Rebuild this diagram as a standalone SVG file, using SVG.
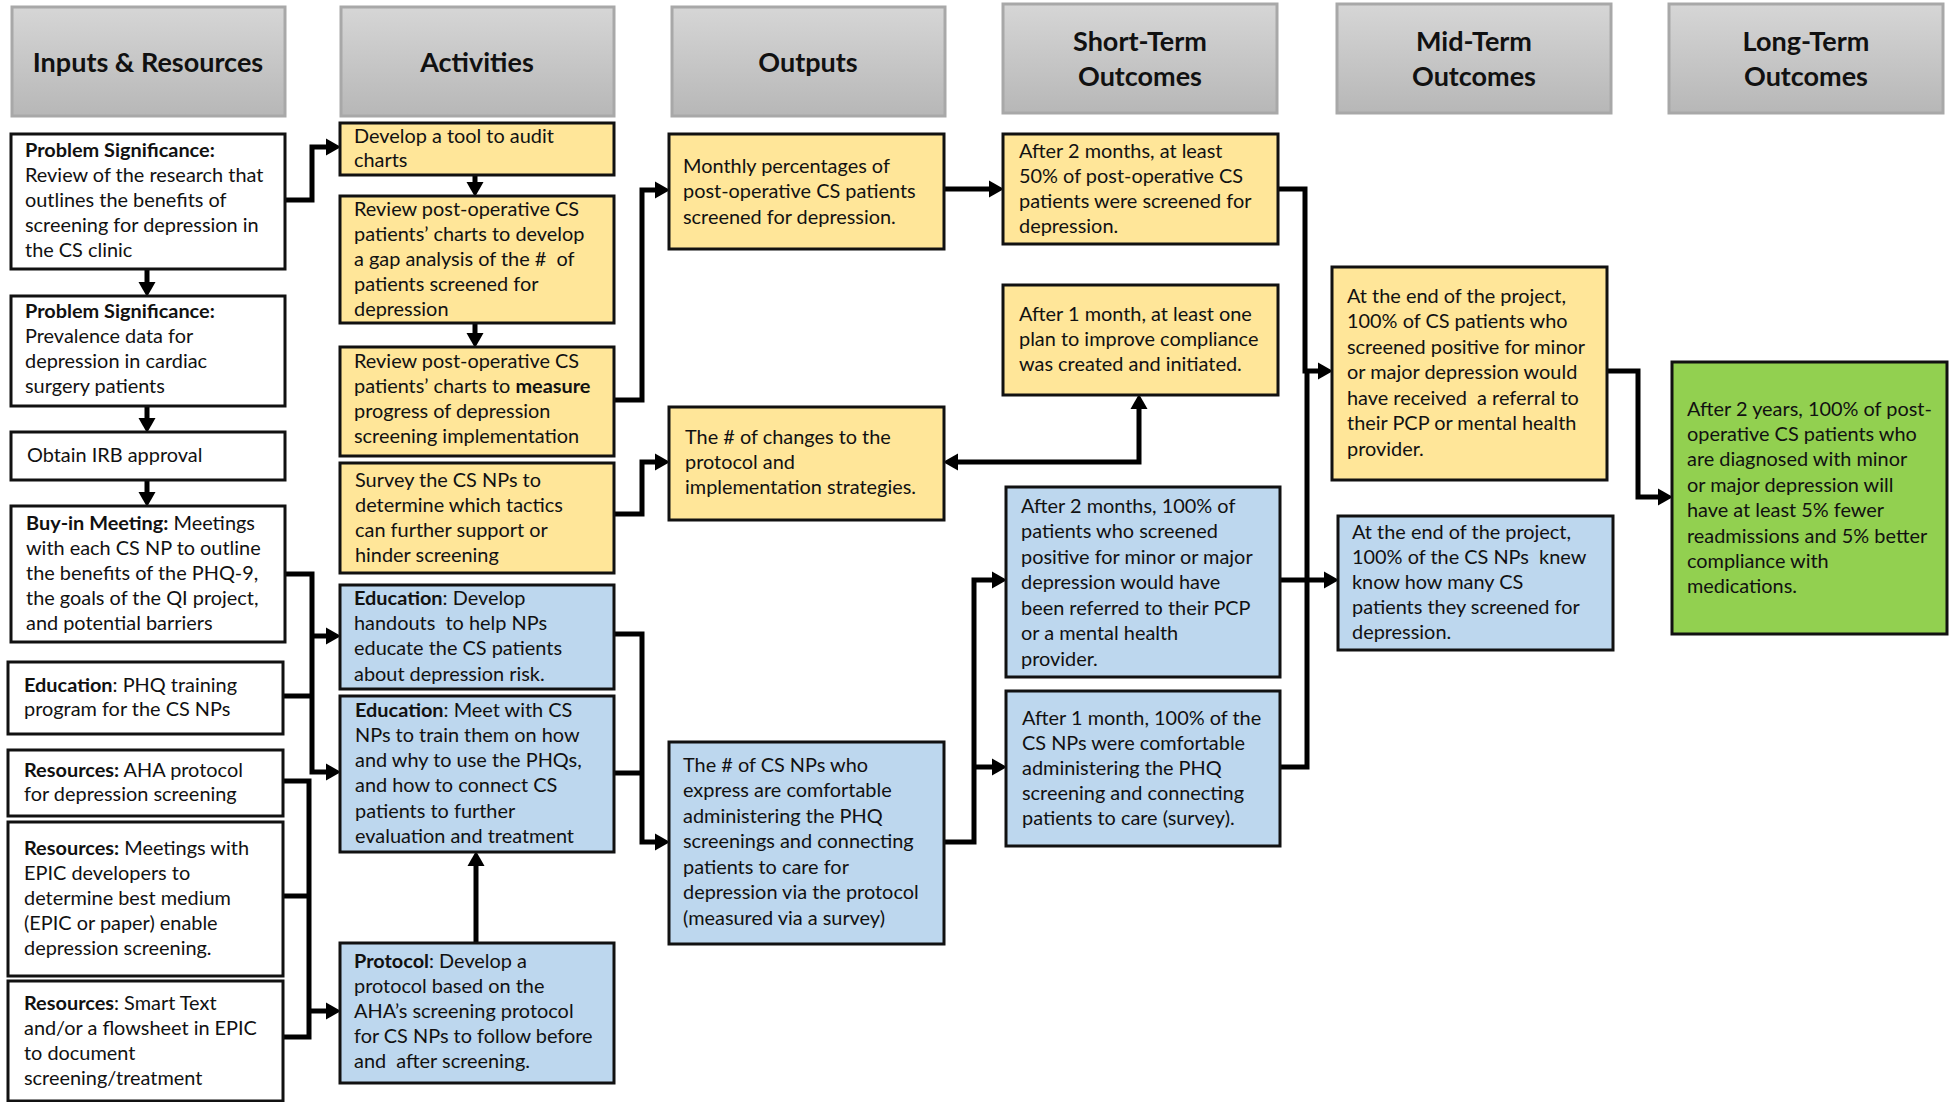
<svg xmlns="http://www.w3.org/2000/svg" width="1952" height="1102" viewBox="0 0 1952 1102">
<defs>
<linearGradient id="hg" x1="0" y1="0" x2="0" y2="1">
<stop offset="0" stop-color="#d6d6d6"/>
<stop offset="1" stop-color="#b7b7b7"/>
</linearGradient>
<marker id="ah" viewBox="0 -9 16 18" refX="4" refY="0" markerWidth="16" markerHeight="18" markerUnits="userSpaceOnUse" orient="auto-start-reverse">
<path d="M0,-8.5 L15,0 L0,8.5 Z" fill="#000"/>
</marker>
</defs>
<style>
.hd{fill:url(#hg);stroke:#a8a8a8;stroke-width:3}
.ht{font-family:Lato,"Liberation Sans",sans-serif;font-weight:700;font-size:27px;fill:#111;text-anchor:middle}
.w{fill:#fff;stroke:#111;stroke-width:3}
.y{fill:#ffe699;stroke:#111;stroke-width:3}
.bl{fill:#bdd7ee;stroke:#111;stroke-width:3}
.g{fill:#92d050;stroke:#111;stroke-width:3}
.t{font-family:Lato,"Liberation Sans",sans-serif;font-size:19.9px;fill:#111;white-space:pre}
.b{font-weight:700}
.c{fill:none;stroke:#000;stroke-width:5;stroke-linejoin:miter}
</style>
<rect width="1952" height="1102" fill="#fff"/>

<g id="headers">
<g id="h-inputs"><rect class="hd" x="12" y="7" width="273" height="109"/><text class="ht" x="148" y="72">Inputs &amp; Resources</text></g>
<g id="h-activities"><rect class="hd" x="341" y="7" width="273" height="109"/><text class="ht" x="477" y="72">Activities</text></g>
<g id="h-outputs"><rect class="hd" x="672" y="7" width="273" height="109"/><text class="ht" x="808" y="72">Outputs</text></g>
<g id="h-short"><rect class="hd" x="1003" y="4" width="274" height="109"/><text class="ht" x="1140" y="51">Short-Term</text><text class="ht" x="1140" y="86">Outcomes</text></g>
<g id="h-mid"><rect class="hd" x="1337" y="4" width="274" height="109"/><text class="ht" x="1474" y="51">Mid-Term</text><text class="ht" x="1474" y="86">Outcomes</text></g>
<g id="h-long"><rect class="hd" x="1669" y="4" width="274" height="109"/><text class="ht" x="1806" y="51">Long-Term</text><text class="ht" x="1806" y="86">Outcomes</text></g>
</g>

<g id="connectors">
<path class="c" d="M285,200 H312 V147 H330" marker-end="url(#ah)"/>
<path class="c" d="M147,269 V286" marker-end="url(#ah)"/>
<path class="c" d="M147,406 V422" marker-end="url(#ah)"/>
<path class="c" d="M147,480 V496" marker-end="url(#ah)"/>
<path class="c" d="M475,175 V186" marker-end="url(#ah)"/>
<path class="c" d="M475,323 V337" marker-end="url(#ah)"/>
<path class="c" d="M614,400 H642 V190 H659" marker-end="url(#ah)"/>
<path class="c" d="M614,514 H642 V462 H659" marker-end="url(#ah)"/>
<path class="c" d="M614,634 H642 V842 H659" marker-end="url(#ah)"/>
<path class="c" d="M614,773 H642"/>
<path class="c" d="M285,574 H312 V772 H330" marker-end="url(#ah)"/>
<path class="c" d="M312,636 H330" marker-end="url(#ah)"/>
<path class="c" d="M283,696 H312"/>
<path class="c" d="M283,781 H309 V1037 H283"/>
<path class="c" d="M283,896 H309"/>
<path class="c" d="M309,1011 H330" marker-end="url(#ah)"/>
<path class="c" d="M476,943 V862" marker-end="url(#ah)"/>
<path class="c" d="M944,189 H993" marker-end="url(#ah)"/>
<path class="c" d="M1139,405 V462 H954" marker-start="url(#ah)" marker-end="url(#ah)"/>
<path class="c" d="M944,842 H974 V580 H996" marker-end="url(#ah)"/>
<path class="c" d="M974,767 H996" marker-end="url(#ah)"/>
<path class="c" d="M1278,189 H1305 V371 H1322" marker-end="url(#ah)"/>
<path class="c" d="M1280,767 H1307 V371"/>
<path class="c" d="M1280,580 H1328" marker-end="url(#ah)"/>
<path class="c" d="M1607,371 H1638 V497 H1662" marker-end="url(#ah)"/>
</g>

<g id="ps1"><rect class="w" x="11" y="134" width="274" height="135"/>
<text class="t"><tspan x="25" y="157" class="b">Problem Significance:</tspan><tspan x="25" y="182">Review of the research that</tspan><tspan x="25" y="207">outlines the benefits of</tspan><tspan x="25" y="232">screening for depression in</tspan><tspan x="25" y="257">the CS clinic</tspan></text></g>

<g id="ps2"><rect class="w" x="11" y="296" width="274" height="110"/>
<text class="t"><tspan x="25" y="318" class="b">Problem Significance:</tspan><tspan x="25" y="343">Prevalence data for</tspan><tspan x="25" y="368">depression in cardiac</tspan><tspan x="25" y="393">surgery patients</tspan></text></g>

<g id="irb"><rect class="w" x="11" y="432" width="274" height="48"/>
<text class="t"><tspan x="27" y="462">Obtain IRB approval</tspan></text></g>

<g id="buyin"><rect class="w" x="11" y="506" width="274" height="136"/>
<text class="t"><tspan x="26" y="530"><tspan class="b">Buy-in Meeting:</tspan> Meetings</tspan><tspan x="26" y="555">with each CS NP to outline</tspan><tspan x="26" y="580">the benefits of the PHQ-9,</tspan><tspan x="26" y="605">the goals of the QI project,</tspan><tspan x="26" y="630">and potential barriers</tspan></text></g>

<g id="edu-phq"><rect class="w" x="8" y="662" width="275" height="72"/>
<text class="t"><tspan x="24" y="692"><tspan class="b">Education</tspan>: PHQ training</tspan><tspan x="24" y="716">program for the CS NPs</tspan></text></g>

<g id="res-aha"><rect class="w" x="8" y="750" width="275" height="66"/>
<text class="t"><tspan x="24" y="777"><tspan class="b">Resources:</tspan> AHA protocol</tspan><tspan x="24" y="801">for depression screening</tspan></text></g>

<g id="res-epic"><rect class="w" x="8" y="822" width="275" height="154"/>
<text class="t"><tspan x="24" y="855"><tspan class="b">Resources:</tspan> Meetings with</tspan><tspan x="24" y="880">EPIC developers to</tspan><tspan x="24" y="905">determine best medium</tspan><tspan x="24" y="930">(EPIC or paper) enable</tspan><tspan x="24" y="955">depression screening.</tspan></text></g>

<g id="res-smart"><rect class="w" x="8" y="981" width="275" height="120"/>
<text class="t"><tspan x="24" y="1010"><tspan class="b">Resources</tspan>: Smart Text</tspan><tspan x="24" y="1035">and/or a flowsheet in EPIC</tspan><tspan x="24" y="1060">to document</tspan><tspan x="24" y="1085">screening/treatment</tspan></text></g>

<g id="a1"><rect class="y" x="340" y="123" width="274" height="52"/>
<text class="t"><tspan x="354" y="143">Develop a tool to audit</tspan><tspan x="354" y="167">charts</tspan></text></g>

<g id="a2"><rect class="y" x="340" y="196" width="274" height="127"/>
<text class="t"><tspan x="354" y="216">Review post-operative CS</tspan><tspan x="354" y="241">patients’ charts to develop</tspan><tspan x="354" y="266">a gap analysis of the #  of</tspan><tspan x="354" y="291">patients screened for</tspan><tspan x="354" y="316">depression</tspan></text></g>

<g id="a3"><rect class="y" x="340" y="347" width="274" height="109"/>
<text class="t"><tspan x="354" y="368">Review post-operative CS</tspan><tspan x="354" y="393">patients’ charts to <tspan class="b">measure</tspan></tspan><tspan x="354" y="418">progress of depression</tspan><tspan x="354" y="443">screening implementation</tspan></text></g>

<g id="a4"><rect class="y" x="340" y="463" width="274" height="110"/>
<text class="t"><tspan x="355" y="487">Survey the CS NPs to</tspan><tspan x="355" y="512">determine which tactics</tspan><tspan x="355" y="537">can further support or</tspan><tspan x="355" y="562">hinder screening</tspan></text></g>

<g id="a5"><rect class="bl" x="340" y="585" width="274" height="104"/>
<text class="t"><tspan x="354" y="605"><tspan class="b">Education</tspan>: Develop</tspan><tspan x="354" y="630">handouts  to help NPs</tspan><tspan x="354" y="655">educate the CS patients</tspan><tspan x="354" y="681">about depression risk.</tspan></text></g>

<g id="a6"><rect class="bl" x="340" y="696" width="274" height="156"/>
<text class="t"><tspan x="355" y="717"><tspan class="b">Education</tspan>: Meet with CS</tspan><tspan x="355" y="742">NPs to train them on how</tspan><tspan x="355" y="767">and why to use the PHQs,</tspan><tspan x="355" y="792">and how to connect CS</tspan><tspan x="355" y="818">patients to further</tspan><tspan x="355" y="843">evaluation and treatment</tspan></text></g>

<g id="a7"><rect class="bl" x="340" y="943" width="274" height="140"/>
<text class="t"><tspan x="354" y="968"><tspan class="b">Protocol</tspan>: Develop a</tspan><tspan x="354" y="993">protocol based on the</tspan><tspan x="354" y="1018">AHA’s screening protocol</tspan><tspan x="354" y="1043">for CS NPs to follow before</tspan><tspan x="354" y="1068">and  after screening.</tspan></text></g>

<g id="o1"><rect class="y" x="669" y="134" width="275" height="115"/>
<text class="t"><tspan x="683" y="173">Monthly percentages of</tspan><tspan x="683" y="198">post-operative CS patients</tspan><tspan x="683" y="224">screened for depression.</tspan></text></g>

<g id="o2"><rect class="y" x="669" y="407" width="275" height="113"/>
<text class="t"><tspan x="685" y="444">The # of changes to the</tspan><tspan x="685" y="469">protocol and</tspan><tspan x="685" y="494">implementation strategies.</tspan></text></g>

<g id="o3"><rect class="bl" x="669" y="742" width="275" height="202"/>
<text class="t"><tspan x="683" y="772">The # of CS NPs who</tspan><tspan x="683" y="797">express are comfortable</tspan><tspan x="683" y="823">administering the PHQ</tspan><tspan x="683" y="848">screenings and connecting</tspan><tspan x="683" y="874">patients to care for</tspan><tspan x="683" y="899">depression via the protocol</tspan><tspan x="683" y="925">(measured via a survey)</tspan></text></g>

<g id="s1"><rect class="y" x="1003" y="134" width="275" height="110"/>
<text class="t"><tspan x="1019" y="158">After 2 months, at least</tspan><tspan x="1019" y="183">50% of post-operative CS</tspan><tspan x="1019" y="208">patients were screened for</tspan><tspan x="1019" y="233">depression.</tspan></text></g>

<g id="s2"><rect class="y" x="1003" y="285" width="275" height="110"/>
<text class="t"><tspan x="1019" y="321">After 1 month, at least one</tspan><tspan x="1019" y="346">plan to improve compliance</tspan><tspan x="1019" y="371">was created and initiated.</tspan></text></g>

<g id="s3"><rect class="bl" x="1006" y="487" width="274" height="190"/>
<text class="t"><tspan x="1021" y="513">After 2 months, 100% of</tspan><tspan x="1021" y="538">patients who screened</tspan><tspan x="1021" y="564">positive for minor or major</tspan><tspan x="1021" y="589">depression would have</tspan><tspan x="1021" y="615">been referred to their PCP</tspan><tspan x="1021" y="640">or a mental health</tspan><tspan x="1021" y="666">provider.</tspan></text></g>

<g id="s4"><rect class="bl" x="1006" y="691" width="274" height="155"/>
<text class="t"><tspan x="1022" y="725">After 1 month, 100% of the</tspan><tspan x="1022" y="750">CS NPs were comfortable</tspan><tspan x="1022" y="775">administering the PHQ</tspan><tspan x="1022" y="800">screening and connecting</tspan><tspan x="1022" y="825">patients to care (survey).</tspan></text></g>

<g id="m1"><rect class="y" x="1332" y="267" width="275" height="213"/>
<text class="t"><tspan x="1347" y="303">At the end of the project,</tspan><tspan x="1347" y="328">100% of CS patients who</tspan><tspan x="1347" y="354">screened positive for minor</tspan><tspan x="1347" y="379">or major depression would</tspan><tspan x="1347" y="405">have received  a referral to</tspan><tspan x="1347" y="430">their PCP or mental health</tspan><tspan x="1347" y="456">provider.</tspan></text></g>

<g id="m2"><rect class="bl" x="1338" y="516" width="275" height="134"/>
<text class="t"><tspan x="1352" y="539">At the end of the project,</tspan><tspan x="1352" y="564">100% of the CS NPs  knew</tspan><tspan x="1352" y="589">know how many CS</tspan><tspan x="1352" y="614">patients they screened for</tspan><tspan x="1352" y="639">depression.</tspan></text></g>

<g id="l1"><rect class="g" x="1672" y="362" width="275" height="272"/>
<text class="t"><tspan x="1687" y="416">After 2 years, 100% of post-</tspan><tspan x="1687" y="441">operative CS patients who</tspan><tspan x="1687" y="466">are diagnosed with minor</tspan><tspan x="1687" y="492">or major depression will</tspan><tspan x="1687" y="517">have at least 5% fewer</tspan><tspan x="1687" y="543">readmissions and 5% better</tspan><tspan x="1687" y="568">compliance with</tspan><tspan x="1687" y="593">medications.</tspan></text></g>
</svg>
